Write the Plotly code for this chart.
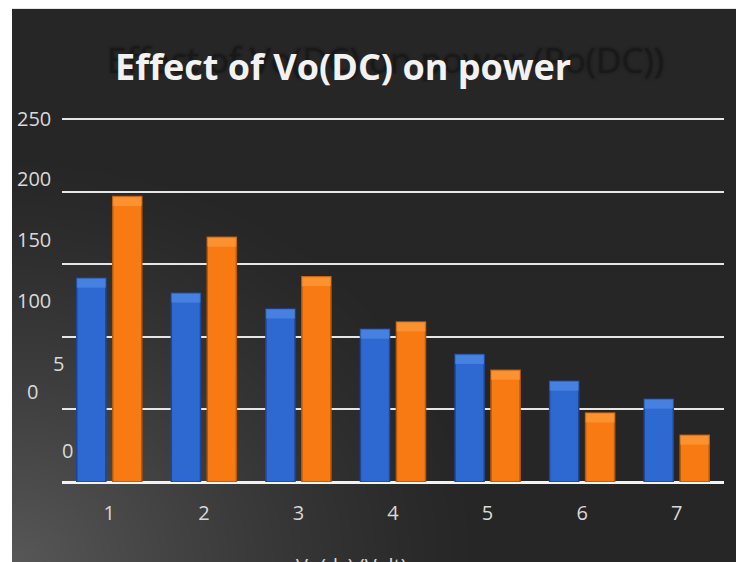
import base64, struct, zlib
import numpy as np
import plotly.graph_objects as go

# ---- data ----
categories = ["1", "2", "3", "4", "5", "6", "7"]
series_blue = [140.3, 130.0, 119.1, 105.2, 87.8, 69.4, 57.0]
series_orange = [196.5, 168.5, 141.4, 110.2, 76.9, 47.5, 32.2]
y_label_text = ["250", "200", "150", "100", "5", "0", "0"]
y_label_at = [250.5, 208.7, 167.1, 125.3, 81.7, 62.2, 22.0]
title_text = "Effect of Vo(DC) on power"
shadow_text = "Effect of Vo(DC) on power (Po(DC))"
x_title = "Vo(dc) (Volt)"

# ---- layout geometry (page pixels; the page body adds an 8px offset) ----
OFF = 8
W, H = 744, 562
y_top = 252
px_per_unit = 363 / 250
ML = 62 - OFF
MR = W - (724 - OFF)
MB = H - (482 - OFF)
PH = y_top * px_per_unit
MT = H - MB - PH
PW = W - ML - MR
y_label_px = [34, 34, 34, 34, 58, 33, 67]


def png_data_uri(arr):
    h, w, _ = arr.shape
    raw = b"".join(b"\x00" + arr[r].astype(np.uint8).tobytes() for r in range(h))

    def chunk(tag, data):
        c = struct.pack(">I", len(data)) + tag + data
        return c + struct.pack(">I", zlib.crc32(tag + data) & 0xFFFFFFFF)

    png = b"\x89PNG\r\n\x1a\n" + chunk(b"IHDR", struct.pack(">IIBBBBB", w, h, 8, 2, 0, 0, 0))
    png += chunk(b"IDAT", zlib.compress(raw, 9)) + chunk(b"IEND", b"")
    return "data:image/png;base64," + base64.b64encode(png).decode()


# dark background with a soft light glow in the lower-left corner
bx0, by0 = 12 - OFF, 9 - OFF
bw, bh = W - bx0, H - by0
yy, xx = np.mgrid[0:bh, 0:bw]
d = np.sqrt((xx * 1.0) ** 2 + ((bh - 8 - yy) * 1.15) ** 2)
t = np.clip(1 - d / 480.0, 0, 1)
c = 38 + 50 * t ** 1.3
img = np.repeat(c[:, :, None], 3, axis=2)
bg_uri = png_data_uri(img)


def pxx(page_x):
    return (page_x - OFF - ML) / PW


def pxy(page_y):
    return (H - MB - (page_y - OFF)) / PH


bevel = 6.5
fig = go.Figure()
fig.add_trace(go.Bar(
    x=categories, y=series_blue, name="blue", offsetgroup="a",
    marker=dict(color="#2e69d2", line=dict(color="#1d4796", width=1.5)),
))
fig.add_trace(go.Bar(
    x=categories, y=series_orange, name="orange", offsetgroup="b",
    marker=dict(color="#f77a12", line=dict(color="#b95708", width=1.5)),
))
# glossy bevel highlight on the top of each bar
fig.add_trace(go.Bar(
    x=categories, y=[bevel] * len(series_blue), base=[v - bevel for v in series_blue],
    offsetgroup="a", marker=dict(color="#5a95ee", line=dict(width=0)), opacity=0.55,
    hoverinfo="skip",
))
fig.add_trace(go.Bar(
    x=categories, y=[bevel] * len(series_orange), base=[v - bevel for v in series_orange],
    offsetgroup="b", marker=dict(color="#ffa448", line=dict(width=0)), opacity=0.55,
    hoverinfo="skip",
))

annotations = []
annotations.append(dict(
    text=shadow_text, xref="paper", yref="paper",
    x=pxx(385), y=pxy(60), xanchor="center", yanchor="middle", showarrow=False,
    font=dict(family="Open Sans", size=35, color="rgba(24,24,24,0.75)",
              shadow="0px 0px 3px rgba(18,18,18,0.9)"),
))
annotations.append(dict(
    text="<b>" + title_text + "</b>", xref="paper", yref="paper",
    x=pxx(343), y=pxy(67), xanchor="center", yanchor="middle", showarrow=False,
    font=dict(family="Open Sans", size=36, color="#f2f2f2"),
))
for txt, val, px in zip(y_label_text, y_label_at, y_label_px):
    annotations.append(dict(
        text=txt, xref="paper", yref="y", x=pxx(px), y=val,
        xanchor="center", yanchor="middle", showarrow=False,
        font=dict(family="Open Sans", size=20, color="#d9d9d9"),
    ))
annotations.append(dict(
    text=x_title, xref="paper", yref="paper",
    x=pxx(351), y=pxy(550), xanchor="center", yanchor="top", showarrow=False,
    font=dict(family="Open Sans", size=20, color="#d9d9d9"),
))

fig.update_layout(
    width=W, height=H, autosize=False,
    margin=dict(l=ML, r=MR, t=MT, b=MB, pad=0),
    paper_bgcolor="white", plot_bgcolor="rgba(0,0,0,0)",
    barmode="group", bargap=0.24, bargroupgap=0.19,
    showlegend=False,
    annotations=annotations,
    images=[dict(
        source=bg_uri, xref="paper", yref="paper",
        x=pxx(12), y=pxy(9), sizex=bw / PW, sizey=bh / PH,
        xanchor="left", yanchor="top", sizing="stretch", layer="below",
    )],
)
fig.update_xaxes(
    showgrid=False, showline=False, zeroline=False, ticks="",
    ticklabelstandoff=17,
    tickfont=dict(family="Open Sans", size=20, color="#d9d9d9"),
)
fig.update_yaxes(
    range=[0, y_top], tick0=0, dtick=50, showticklabels=False,
    showgrid=True, gridcolor="#e6e6e6", gridwidth=2,
    zeroline=True, zerolinecolor="#f2f2f2", zerolinewidth=2.5, showline=False,
)

fig.write_html("out.html")
